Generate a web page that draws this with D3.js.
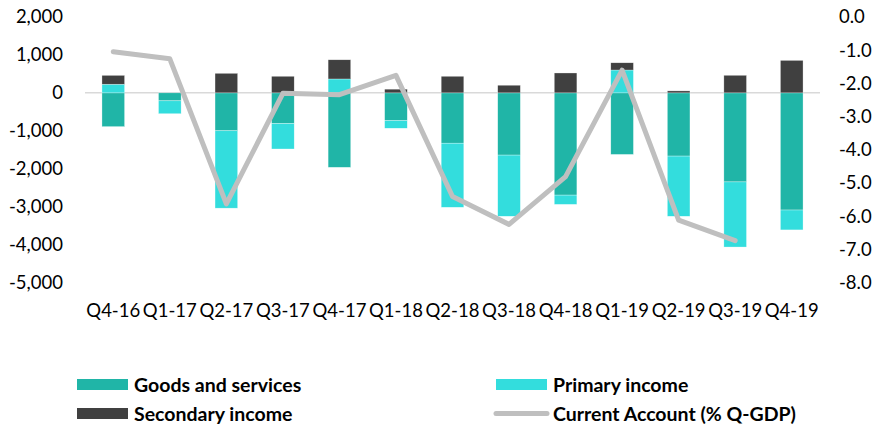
<!DOCTYPE html>
<html>
<head>
<meta charset="utf-8">
<script src="https://cdn.jsdelivr.net/npm/d3@7"></script>
<style>
  html, body { margin: 0; padding: 0; background: #fff; }
  svg { display: block; font-family: Lato, "Open Sans", sans-serif; }
</style>
</head>
<body>
<svg id="chart" width="875" height="426"></svg>
<script>
// Quarterly current account components (left axis) and balance as % of GDP (right axis)
const quarters = ["Q4-16","Q1-17","Q2-17","Q3-17","Q4-17","Q1-18","Q2-18","Q3-18","Q4-18","Q1-19","Q2-19","Q3-19","Q4-19"];
const goodsServices = [-890, -210, -1000, -810, -1963, -733, -1327, -1641, -2696, -1623, -1667, -2348, -3089];
const primaryIncome = [228, -340, -2040, -670, 366, -200, -1690, -1613, -244, 602, -1587, -1717, -524];
const secondaryIncome = [233, 0, 515, 437, 506, 97, 437, 201, 524, 191, 52, 463, 856];
const currentAccountPct = [-1.05, -1.26, -5.63, -2.30, -2.34, -1.76, -5.41, -6.25, -4.81, -1.60, -6.12, -6.74, null];

const leftTicks = [2000, 1000, 0, -1000, -2000, -3000, -4000, -5000];
const rightTicks = [0, -1, -2, -3, -4, -5, -6, -7, -8];

const seriesNames = ["Goods and services", "Primary income", "Secondary income"];
const seriesColors = ["#20b5a7", "#33dddd", "#404040"];
const lineName = "Current Account (% Q-GDP)";
const lineColor = "#bfbfbf";

const svg = d3.select("#chart");
const plot = { left: 85, right: 820, top: 17, bottom: 282.5 };

const x = d3.scaleBand().domain(quarters).range([plot.left, plot.right])
  .paddingInner(0.6).paddingOuter(0.3);
const yL = d3.scaleLinear().domain([-5000, 2000]).range([plot.bottom, plot.top]);
const yR = d3.scaleLinear().domain([-8, 0]).range([plot.bottom, plot.top]);

// Diverging stack: positives build up from zero, negatives build down
const rows = quarters.map((q, i) => ({
  q,
  [seriesNames[0]]: goodsServices[i],
  [seriesNames[1]]: primaryIncome[i],
  [seriesNames[2]]: secondaryIncome[i]
}));
const stacked = d3.stack().keys(seriesNames).offset(d3.stackOffsetDiverging)(rows);

const fontAxis = 18.5;
const hyphen = s => s.replace("−", "-");

// Zero line
svg.append("line")
  .attr("x1", plot.left).attr("x2", plot.right)
  .attr("y1", yL(0)).attr("y2", yL(0))
  .attr("stroke", "#d9d9d9").attr("stroke-width", 1.5);

// Bars
svg.append("g").selectAll("g").data(stacked).join("g")
  .attr("fill", (d, i) => seriesColors[i])
  .selectAll("rect").data(d => d).join("rect")
  .attr("x", d => x(d.data.q))
  .attr("width", x.bandwidth())
  .attr("y", d => yL(Math.max(d[0], d[1])))
  .attr("height", d => Math.abs(yL(d[0]) - yL(d[1])))
  .attr("stroke", "#ffffff").attr("stroke-width", 0.5).attr("stroke-opacity", 0.6);

// Current account line
const line = d3.line()
  .defined(d => d != null)
  .x((d, i) => x(quarters[i]) + x.bandwidth() / 2)
  .y(d => yR(d));
svg.append("path")
  .datum(currentAccountPct)
  .attr("d", line)
  .attr("fill", "none")
  .attr("stroke", lineColor)
  .attr("stroke-width", 5)
  .attr("stroke-linejoin", "round")
  .attr("stroke-linecap", "round");

// Left axis
const axL = svg.append("g").attr("transform", `translate(${plot.left - 22},0)`)
  .call(d3.axisLeft(yL).tickValues(leftTicks).tickFormat(d => hyphen(d3.format(",")(d))).tickSize(0).tickPadding(0));
axL.select(".domain").remove();
axL.selectAll("text").attr("font-size", fontAxis).attr("font-family", "Lato").attr("fill", "#000");

// Right axis
const axR = svg.append("g").attr("transform", `translate(${plot.right + 19},0)`)
  .call(d3.axisRight(yR).tickValues(rightTicks).tickFormat(d => hyphen(d3.format(".1f")(d))).tickSize(0).tickPadding(0));
axR.select(".domain").remove();
axR.selectAll("text").attr("font-size", fontAxis).attr("font-family", "Lato").attr("fill", "#000");

// Category axis
const axB = svg.append("g").attr("transform", `translate(0,${304})`)
  .call(d3.axisBottom(x).tickSize(0).tickPadding(0));
axB.select(".domain").remove();
axB.selectAll("text").attr("font-size", fontAxis).attr("font-family", "Lato").attr("fill", "#000")
  .attr("dy", "0.71em");

// Legend
const legendItems = [
  { name: seriesNames[0], color: seriesColors[0], type: "box", x: 77, y: 384.5 },
  { name: seriesNames[1], color: seriesColors[1], type: "box", x: 496, y: 384.5 },
  { name: seriesNames[2], color: seriesColors[2], type: "box", x: 77, y: 413.5 },
  { name: lineName, color: lineColor, type: "line", x: 496, y: 413.5 }
];
const lg = svg.append("g").selectAll("g").data(legendItems).join("g")
  .attr("transform", d => `translate(${d.x},${d.y})`);
lg.filter(d => d.type === "box").append("rect")
  .attr("x", 0).attr("y", -5.5).attr("width", 51).attr("height", 11)
  .attr("fill", d => d.color);
lg.filter(d => d.type === "line").append("line")
  .attr("x1", 0).attr("x2", 51).attr("y1", 0).attr("y2", 0)
  .attr("stroke", d => d.color).attr("stroke-width", 5).attr("stroke-linecap", "round");
lg.append("text")
  .attr("x", 57).attr("y", 0).attr("dy", "0.36em")
  .attr("font-size", 19.5).attr("font-weight", "bold").attr("font-family", "Lato")
  .attr("fill", "#000")
  .text(d => d.name);
</script>
</body>
</html>
